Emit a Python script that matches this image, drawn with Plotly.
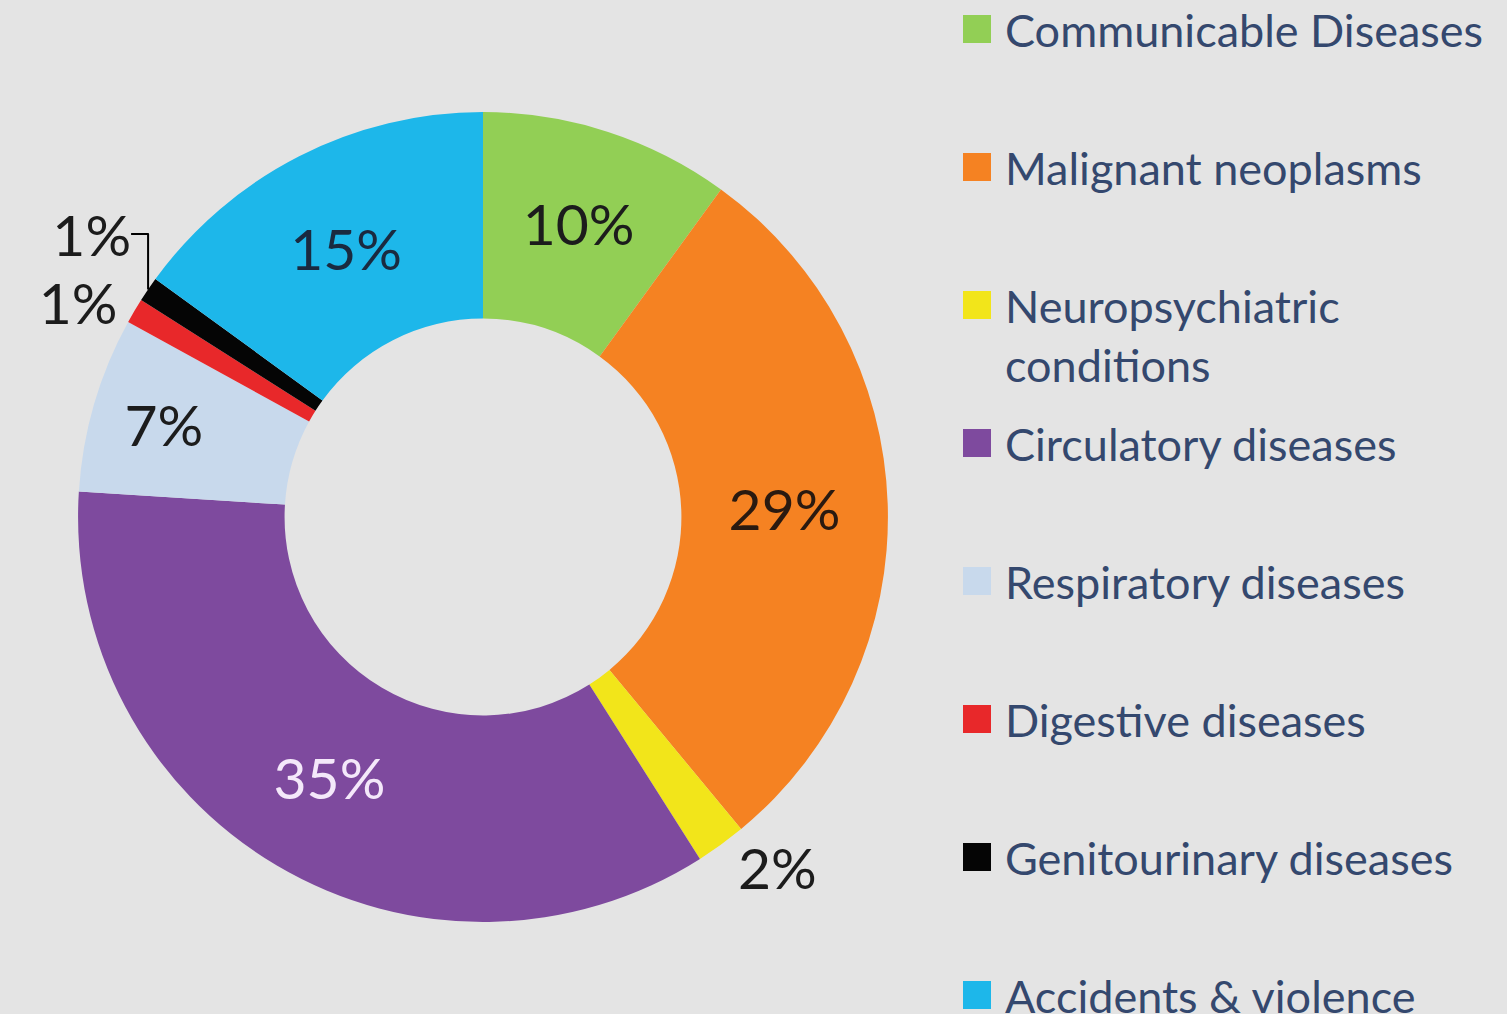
import plotly.graph_objects as go

categories = [
    "Communicable Diseases",
    "Malignant neoplasms",
    "Neuropsychiatric<br>conditions",
    "Circulatory diseases",
    "Respiratory diseases",
    "Digestive diseases",
    "Genitourinary diseases",
    "Accidents & violence",
]
values = [10, 29, 2, 35, 7, 1, 1, 15]
colors = ["#92cf55", "#f58222", "#f2e51a", "#7e4a9e", "#c8d9ec", "#e8282a", "#050505", "#1db7ea"]
text_positions = ["inside", "inside", "outside", "inside", "inside", "outside", "outside", "inside"]
text_colors = ["#1c1c1c", "#2a1a10", "#1c1c1c", "#f4e8fa", "#1c1c1c", "#1c1c1c", "#1c1c1c", "#1a2a40"]

BG = "#e4e4e4"
LEGEND_TEXT = "#34486e"
FONT = "Lato"

fig = go.Figure()
fig.add_trace(go.Pie(
    labels=categories,
    values=values,
    sort=False,
    direction="clockwise",
    rotation=0,
    hole=0.49,
    marker=dict(colors=colors, line=dict(width=0)),
    textinfo="percent",
    texttemplate="%{percent:.0%}",
    textposition=text_positions,
    insidetextorientation="horizontal",
    textfont=dict(family=FONT, size=57, color=text_colors),
    showlegend=False,
    domain=dict(x=[0.0518, 0.5892], y=[0.0907, 0.8895]),
    hoverinfo="label+percent",
))

# custom legend on the right
W, H = 1507, 1014
y0, step = 30, 138
for i, (lab, col) in enumerate(zip(categories, colors)):
    yc = y0 + step * i
    fig.add_shape(type="rect", xref="paper", yref="paper",
                  x0=963 / W, x1=991 / W,
                  y0=1 - (yc - 15) / H, y1=1 - (yc + 13) / H,
                  fillcolor=col, line=dict(width=0))
    fig.add_annotation(xref="paper", yref="paper", x=1003 / W, y=1 - (yc - 29) / H,
                       xanchor="left", yanchor="top", align="left",
                       text=lab, showarrow=False,
                       font=dict(family=FONT, size=45, color=LEGEND_TEXT))

fig.update_layout(
    width=W, height=H,
    margin=dict(l=0, r=0, t=0, b=0),
    paper_bgcolor=BG, plot_bgcolor=BG,
    font=dict(family=FONT),
)

fig.write_html("out.html")
